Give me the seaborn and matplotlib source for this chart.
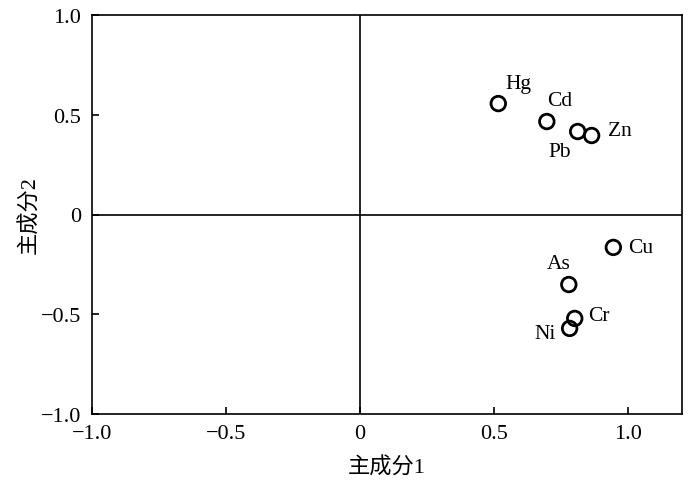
import matplotlib
matplotlib.use("Agg")
import matplotlib.pyplot as plt
import seaborn as sns
import pandas as pd
from matplotlib.ticker import FuncFormatter

elements = ["Hg", "Cd", "Pb", "Zn", "Cu", "As", "Cr", "Ni"]
pc1 = [0.515, 0.696, 0.811, 0.863, 0.944, 0.778, 0.800, 0.781]
pc2 = [0.556, 0.466, 0.416, 0.396, -0.165, -0.351, -0.521, -0.571]
xticks = [-1.0, -0.5, 0, 0.5, 1.0]
yticks = [-1.0, -0.5, 0, 0.5, 1.0]

# label offsets in pixels
offsets = {"Hg": (20, 20), "Cd": (13, 21), "Pb": (-18, -20), "Zn": (28, 5),
           "Cu": (27, 0), "As": (-10, 21), "Cr": (24, 3), "Ni": (-25, -5)}

df = pd.DataFrame({"el": elements, "pc1": pc1, "pc2": pc2})

sns.set_theme(style="white")
plt.rcParams['font.family'] = ['Liberation Serif', 'Noto Sans CJK SC']
plt.rcParams['axes.unicode_minus'] = True

fig = plt.figure(figsize=(7, 4.85), dpi=100)
ax = fig.add_axes([92/700, 1-415/485, 590/700, 399/485])

ax.axhline(0, color="black", lw=1.2, zorder=1)
ax.axvline(0, color="black", lw=1.2, zorder=1)

sns.scatterplot(data=df, x="pc1", y="pc2", ax=ax, marker="o", s=110,
                facecolor="none", edgecolor="black", linewidth=2, zorder=3)

for e, x, y in zip(elements, pc1, pc2):
    dx, dy = offsets[e]
    ax.annotate(e, (x, y), xytext=(dx * 0.72, dy * 0.72), textcoords="offset points",
                ha="center", va="center", fontsize=15.5, color="black")

ax.set_xlim(-1.0, 1.2)
ax.set_ylim(-1.0, 1.0)
ax.set_xticks(xticks)
ax.set_yticks(yticks)
fmt = FuncFormatter(lambda v, p: "0" if abs(v) < 1e-9 else f"{v:.1f}".replace("-", "\u2212"))
ax.xaxis.set_major_formatter(fmt)
ax.yaxis.set_major_formatter(fmt)
ax.tick_params(direction="in", length=5, width=1.2, labelsize=16, colors="black",
               bottom=True, left=True)
ax.tick_params(axis="x", pad=7)
ax.tick_params(axis="y", pad=8)
for s in ax.spines.values():
    s.set_color("black")
    s.set_linewidth(1.2)

ax.set_xlabel("主成分1", fontsize=16, color="black", labelpad=10)
ax.set_ylabel("主成分2", fontsize=16, color="black", labelpad=0)

fig.savefig("out.png", dpi=100)
